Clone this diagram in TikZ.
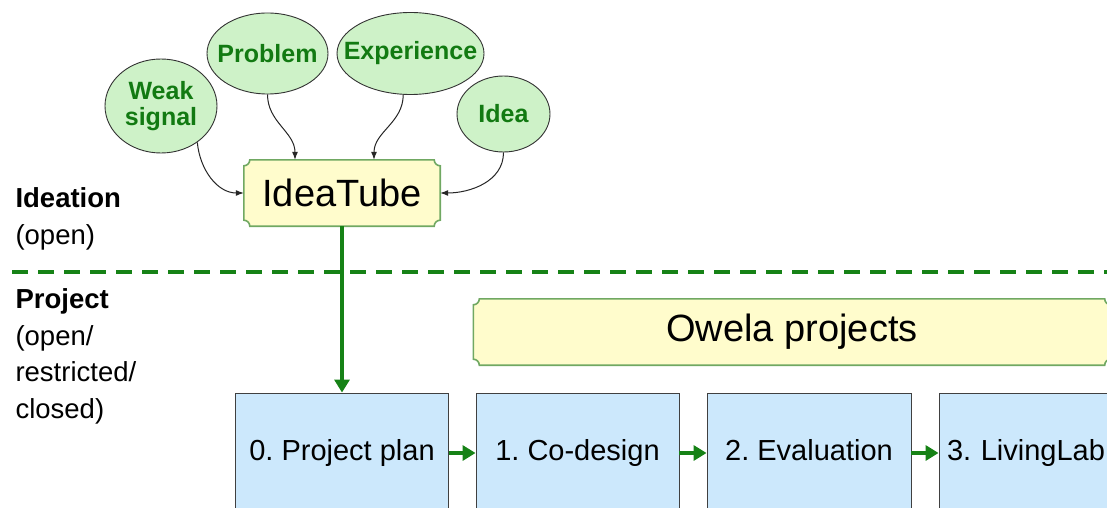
\documentclass[tikz,border=0pt]{standalone}
\usepackage{fontspec}
\setmainfont{Liberation Sans}
\usetikzlibrary{shapes.geometric, arrows.meta, backgrounds}
\usepackage{xcolor}
\frenchspacing

\definecolor{bubblefill}{RGB}{206,242,200}
\definecolor{labelgreen}{RGB}{18,122,18}
\definecolor{tubefill}{RGB}{255,252,204}
\definecolor{tubeline}{RGB}{112,168,98}
\definecolor{phasefill}{RGB}{204,232,252}
\definecolor{flowgreen}{RGB}{22,130,22}

% frame with scooped corners round a node
\newcommand{\plaqueframe}[1]{%
    \filldraw[draw=tubeline, fill=tubefill, line width=1.6pt]
        ([xshift=6pt]#1.north west) -- ([xshift=-6pt]#1.north east)
        arc[start angle=180, end angle=270, radius=6pt] -- ([yshift=6pt]#1.south east)
        arc[start angle=90, end angle=180, radius=6pt] -- ([xshift=6pt]#1.south west)
        arc[start angle=0, end angle=90, radius=6pt] -- ([yshift=-6pt]#1.north west)
        arc[start angle=270, end angle=360, radius=6pt] -- cycle;}

\begin{document}
\begin{tikzpicture}[x=1pt,y=1pt,
    bubble/.style={ellipse, draw=black!80, line width=0.9pt, fill=bubblefill, inner sep=0pt,
        text=labelgreen, align=center, font=\fontsize{25}{26}\selectfont\bfseries},
    plaque/.style={inner sep=0pt, minimum height=66pt, font=\fontsize{38}{40}\selectfont},
    phase/.style={rectangle, draw=black!75, line width=0.9pt, fill=phasefill, inner sep=0pt,
        text height=21pt, text depth=6pt, minimum height=120pt, font=\fontsize{29}{30}\selectfont},
    feed/.style={-{Latex[length=8pt,width=6pt]}, line width=1pt, black!85},
    flow/.style={-{Triangle[length=13pt,width=15pt]}, line width=3.5pt, flowgreen},
    side/.style={anchor=base west, align=left, font=\fontsize{27.5}{36.5}\selectfont}]
    \useasboundingbox (0,0) rectangle (1107,507);
    \clip (0,0) rectangle (1107,507);

    % the sources of ideas
    \node[bubble, minimum width=112pt, minimum height=94pt] (weak) at (161,401)
        {\makebox[0pt]{Weak}\\\makebox[0pt]{signal}};
    \node[bubble, minimum width=121pt, minimum height=81pt] (problem) at (267.5,453.5)
        {\makebox[0pt]{Problem}};
    \node[bubble, minimum width=147pt, minimum height=82pt] (experience) at (410.5,453.5)
        {\makebox[0pt]{Experience}};
    \node[bubble, minimum width=93pt, minimum height=76pt] (idea) at (503.5,393)
        {\makebox[0pt]{Idea}};

    % the tube and the project band
    \node[plaque, minimum width=196pt] (tube) at (342,314) {IdeaTube};
    \node[plaque, minimum width=637pt] (owela) at (792,175) {Owela projects};
    \begin{scope}[on background layer]
        \plaqueframe{tube}
        \plaqueframe{owela}
    \end{scope}

    % the phases
    \node[phase, minimum width=213pt] (plan) at (342,54) {0. Project plan};
    \node[phase, minimum width=203pt] (codesign) at (577.5,54) {1. Co-design};
    \node[phase, minimum width=204pt] (evaluation) at (809,54) {2. Evaluation};
    \node[phase, text width=188pt, inner xsep=8pt] (livinglab) at (1041,54) {3. LivingLab};

    % ideas into the tube
    \draw[feed] (weak.-45) to[out=-85,in=180] (tube.west);
    \draw[feed] (problem.south) to[out=-90,in=90] ([xshift=-47pt]tube.north);
    \draw[feed] (experience.-100) to[out=-90,in=90] ([xshift=32pt]tube.north);
    \draw[feed] (idea.south) to[out=-90,in=0] (tube.east);

    % from the tube to the phases
    \draw[flow] (tube.south) -- (plan.north);
    \draw[flow] (plan.east) -- (codesign.west);
    \draw[flow] (codesign.east) -- (evaluation.west);
    \draw[flow] (evaluation.east) -- (livinglab.west);

    % border between the two levels
    \draw[flowgreen, line width=4pt, dash pattern=on 16pt off 10pt] (12,235) -- (1107,235);

    % text on the left
    \node[side] (ideation) at (12,263) {\textbf{Ideation}\\(open)};
    \node[side] (project) at (12,89) {\textbf{Project}\\(open/\\restricted/\\closed)};
\end{tikzpicture}
\end{document}
